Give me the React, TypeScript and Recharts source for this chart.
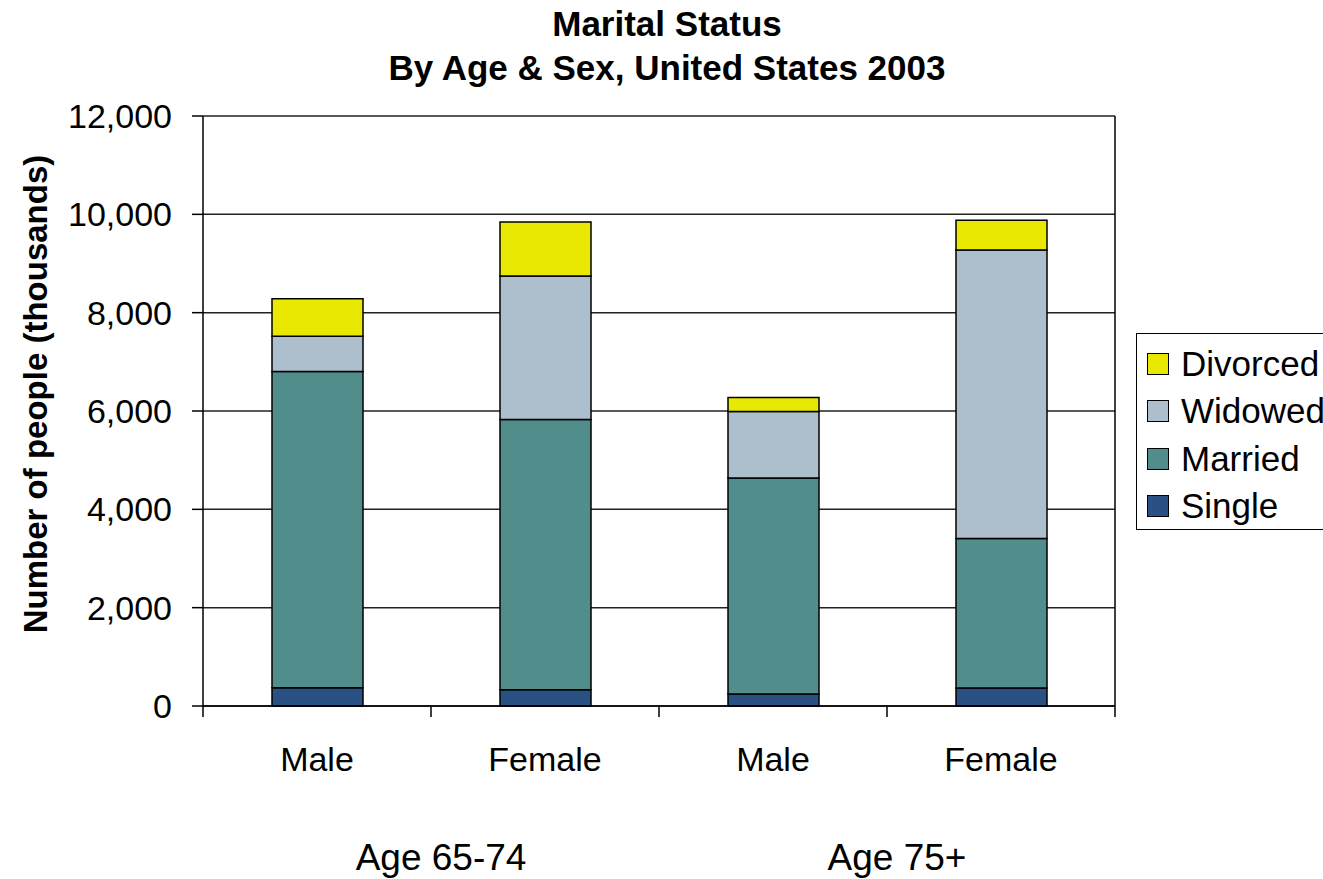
import React from "react";
import {
  BarChart,
  Bar,
  XAxis,
  YAxis,
  CartesianGrid,
  Legend,
} from "recharts";

const FONT = '"Liberation Sans", Arial, Helvetica, sans-serif';

// one bar per sex within each age group
const categories = ["Male", "Female", "Male", "Female"];
const ageGroups = ["Age 65-74", "Age 75+"];

// thousands of people
const single = [373, 332, 244, 367];
const married = [6429, 5493, 4393, 3041];
const widowed = [719, 2919, 1351, 5865];
const divorced = [762, 1099, 285, 605];

const yTicks = [0, 2000, 4000, 6000, 8000, 10000, 12000];

const series = [
  { key: "single", name: "Single", color: "#2A5183" },
  { key: "married", name: "Married", color: "#518E8B" },
  { key: "widowed", name: "Widowed", color: "#ADBECD" },
  { key: "divorced", name: "Divorced", color: "#E8E800" },
];

const data = categories.map((c, i) => ({
  id: `c${i}`,
  label: c,
  single: single[i],
  married: married[i],
  widowed: widowed[i],
  divorced: divorced[i],
}));

function CategoryTick(props: any) {
  const { x, y, index, payload } = props;
  const half = payload.offset ?? 0;
  const last = index === categories.length - 1;
  return (
    <g>
      <line x1={x - half} y1={y} x2={x - half} y2={y + 11} stroke="#000" strokeWidth={1.5} />
      {last && (
        <line x1={x + half} y1={y} x2={x + half} y2={y + 11} stroke="#000" strokeWidth={1.5} />
      )}
      <text x={x} y={y + 65} textAnchor="middle" fontSize={34} fontFamily={FONT} fill="#000">
        {categories[index]}
      </text>
      {index % 2 === 0 && (
        <text x={x + half + 10} y={y + 164} textAnchor="middle" fontSize={37} fontFamily={FONT} fill="#000">
          {ageGroups[index / 2]}
        </text>
      )}
    </g>
  );
}

function LegendBox() {
  const items = [...series].reverse();
  return (
    <div
      style={{
        border: "1.5px solid #000",
        background: "#fff",
        width: 200,
        height: 197,
        boxSizing: "border-box",
        paddingTop: 6,
        paddingLeft: 10,
        fontFamily: FONT,
        fontSize: 35,
        color: "#000",
      }}
    >
      {items.map((s) => (
        <div key={s.key} style={{ display: "flex", alignItems: "center", height: 47.5 }}>
          <span
            style={{
              display: "inline-block",
              width: 22,
              height: 22,
              background: s.color,
              border: "1.5px solid #000",
              boxSizing: "border-box",
              marginRight: 12,
            }}
          />
          <span style={{ whiteSpace: "nowrap" }}>{s.name}</span>
        </div>
      ))}
    </div>
  );
}

export default function App() {
  return (
    <div
      style={{
        position: "absolute",
        left: 0,
        top: 0,
        width: 1323,
        height: 879,
        overflow: "hidden",
        background: "#fff",
      }}
    >
      <BarChart
        width={1323}
        height={879}
        data={data}
        margin={{ top: 116, right: 7, left: 0, bottom: 0 }}
        barSize={91}
      >
        <text x={667} y={36} textAnchor="middle" fontSize={35} fontWeight="bold" fontFamily={FONT} fill="#000">
          Marital Status
        </text>
        <text x={667} y={80} textAnchor="middle" fontSize={35} fontWeight="bold" fontFamily={FONT} fill="#000">
          By Age &amp; Sex, United States 2003
        </text>
        <CartesianGrid vertical={false} stroke="#222" strokeWidth={1.5} />
        <XAxis
          dataKey="id"
          height={173}
          axisLine={{ stroke: "#000", strokeWidth: 1.5 }}
          tickLine={false}
          tickSize={0}
          tickMargin={0}
          interval={0}
          tick={<CategoryTick />}
        />
        <YAxis
          width={203}
          domain={[0, 12000]}
          ticks={yTicks}
          interval={0}
          tickSize={11}
          tickMargin={20}
          axisLine={{ stroke: "#000", strokeWidth: 1.5 }}
          tickLine={{ stroke: "#000", strokeWidth: 1.5 }}
          tick={{ fontSize: 34, fill: "#000", fontFamily: FONT }}
          tickFormatter={(v: number) => v.toLocaleString("en-US")}
          label={{
            value: "Number of people (thousands)",
            angle: -90,
            position: "insideLeft",
            dx: 30,
            dy: -17,
            style: { fontSize: 33, fontWeight: "bold", fontFamily: FONT, fill: "#000", textAnchor: "middle" },
          }}
        />
        <YAxis
          yAxisId="frame"
          orientation="right"
          width={1}
          tick={false}
          tickLine={false}
          axisLine={{ stroke: "#000", strokeWidth: 1.5 }}
        />
        <Legend
          layout="vertical"
          align="right"
          verticalAlign="middle"
          content={<LegendBox />}
          wrapperStyle={{ position: "absolute", left: 1136, top: 333, width: 200 }}
        />
        {series.map((s) => (
          <Bar
            key={s.key}
            dataKey={s.key}
            name={s.name}
            stackId="a"
            fill={s.color}
            stroke="#000"
            strokeWidth={1.5}
            isAnimationActive={false}
          />
        ))}
      </BarChart>
    </div>
  );
}
